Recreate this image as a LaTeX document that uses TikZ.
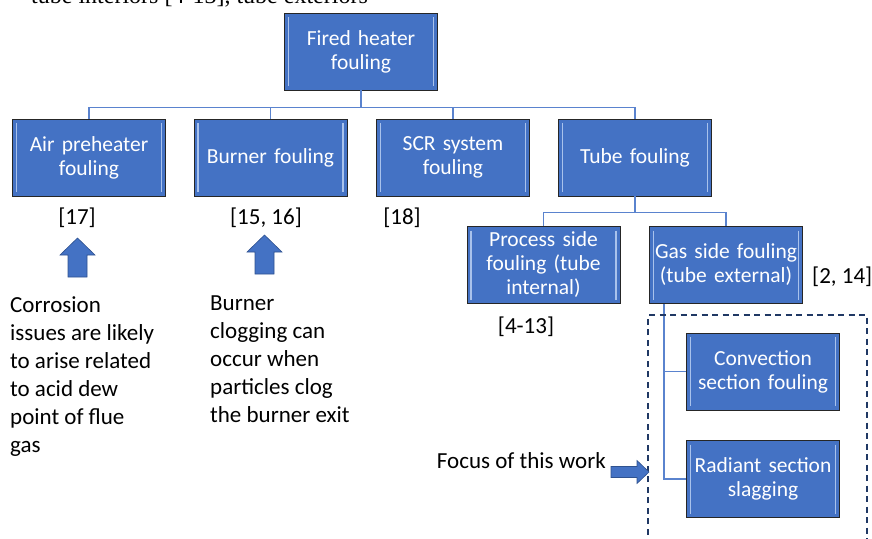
\documentclass[tikz,border=0pt]{standalone}
\usepackage{fontspec}
\setmainfont{Carlito}
\newfontfamily\serifcut{Liberation Serif}
\definecolor{boxblue}{HTML}{4472C4}
\definecolor{bevellight}{HTML}{A9C2EC}
\definecolor{linkblue}{HTML}{5A83CE}
\definecolor{navy}{HTML}{203864}
\definecolor{arrowedge}{HTML}{2F528F}
\tikzset{
  fbox/.style={draw=black!85, line width=0.9pt, fill=boxblue, text=white,
    minimum width=153pt, minimum height=77pt, inner sep=0pt, text width=150pt,
    align=center, font=\fontsize{21.5}{24}\selectfont,
    path picture={
      \draw[bevellight, line width=1.8pt]
        ([xshift=4pt,yshift=-4pt]path picture bounding box.north west) --
        ([xshift=4pt,yshift=4pt]path picture bounding box.south west);
      \draw[bevellight, line width=1.8pt]
        ([xshift=-4pt,yshift=-4pt]path picture bounding box.north east) --
        ([xshift=-4pt,yshift=4pt]path picture bounding box.south east);
    }},
  link/.style={draw=linkblue, line width=1.3pt},
  note/.style={font=\fontsize{23}{28}\selectfont, inner sep=0pt, text=black},
  uparrow/.style={fill=boxblue, draw=arrowedge, line width=0.6pt},
}
\begin{document}
\begin{tikzpicture}[x=1pt,y=-1pt]
\useasboundingbox (0,0) rectangle (872,538);
% clipped line of the page above
\node[anchor=base east, inner sep=0pt, font=\serifcut\fontsize{24}{28}\selectfont] (cut) at (368,3) {tube interiors [4-13], tube exteriors};

\node[fbox] (fh) at (361,51.5) {Fired heater\\fouling};
\node[fbox] (air) at (89,157.5) {Air preheater\\fouling};
\node[fbox] (bur) at (270.5,157.5) {Burner fouling};
\node[fbox] (scr) at (453,157.5) {SCR system\\fouling};
\node[fbox] (tube) at (635,157.5) {Tube fouling};
\node[fbox] (proc) at (543.5,265) {Process side\\fouling (tube\\internal)};
\node[fbox] (gas) at (726,265) {Gas side fouling\\(tube external)};
\node[fbox] (conv) at (763,371.5) {Convection\\section fouling};
\node[fbox] (rad) at (763,479) {Radiant section\\slagging};

% connectors
\draw[link] (fh.south) -- ++(0,17) coordinate (bus) -| (air.north);
\draw[link] (bus) -| (bur.north);
\draw[link] (bus) -| (scr.north);
\draw[link] (bus) -| (tube.north);
\draw[link] (tube.south) -- ++(0,16) coordinate (bus2) -| (proc.north);
\draw[link] (bus2) -| (gas.north);
\coordinate (trunk) at ([xshift=15pt]gas.south west);
\draw[link] (trunk) |- (rad.west);
\draw[link] (trunk |- conv.west) -- (conv.west);

% references
\node[note] (r17) at (77,218) {[17]};
\node[note] (r1516) at (266,218) {[15, 16]};
\node[note] (r18) at (402,218) {[18]};
\node[note] (r413) at (526,327) {[4-13]};
\node[note, anchor=west] (r214) at (812,277) {[2, 14]};

% up arrows
\draw[uparrow] (68,277) -- (87,277) -- (87,255) -- (95,255) -- (77.5,238) -- (60,255) -- (68,255) -- cycle;
\draw[uparrow] (255,274) -- (274,274) -- (274,252) -- (282,252) -- (264.5,235) -- (247,252) -- (255,252) -- cycle;

% notes
\node[note, anchor=north west, align=left] (corr) at (10,296) {Corrosion\\issues are likely\\to arise related\\to acid dew\\point of flue\\gas};
\node[note, anchor=north west, align=left] (clog) at (210,296) {Burner\\clogging can\\occur when\\particles clog\\the burner exit};

% focus region
\draw[navy, line width=1.5pt, dash pattern=on 6pt off 4.5pt] (648,545) -- (648,315) -- (867,315) -- (867,545);
\node[note, anchor=east] (focus) at (606,461) {Focus of this work};
\draw[uparrow] ([xshift=5pt,yshift=-5.5pt]focus.east) -- ++(26,0) -- ++(0,-6) -- ++(12,11.5) -- ++(-12,11.5) -- ++(0,-6) -- ++(-26,0) -- cycle;
\end{tikzpicture}
\end{document}
